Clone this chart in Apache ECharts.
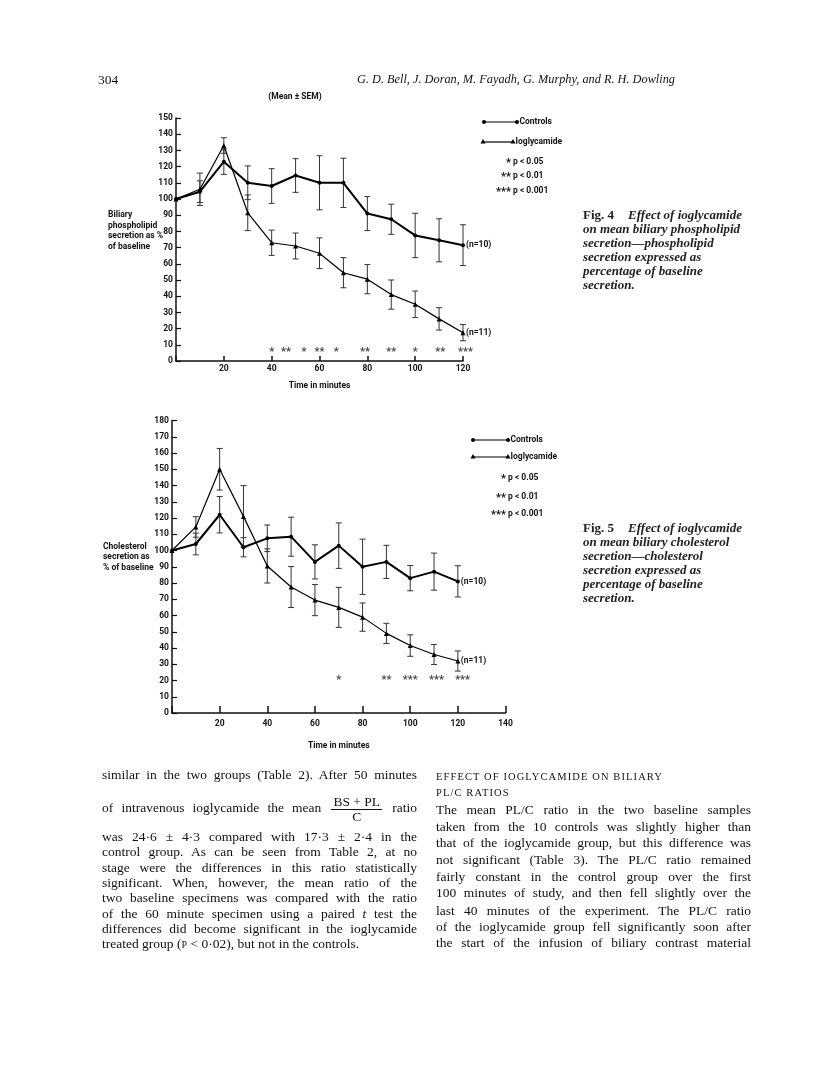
<!DOCTYPE html>
<html>
<head>
<meta charset="utf-8">
<script src="https://cdn.jsdelivr.net/npm/echarts@6/dist/echarts.min.js"></script>
<style>
  html, body { margin: 0; padding: 0; background: #fff; }
  #page { position: relative; width: 816px; height: 1079px; overflow: hidden; }
  #chart { position: absolute; left: 0; top: 0; width: 816px; height: 1079px; }
  .serif { position: absolute; font-family: 'Liberation Serif', 'DejaVu Serif', serif; color: #111; }
  .ln { width: 315px; font-size: 13.5px; line-height: 16px; text-align: justify; text-align-last: justify; }
  .last { text-align-last: left; }
  .cap { font-size: 13px; line-height: 14px; font-style: italic; font-weight: bold; color: #222; }
  .cap b { font-style: normal; margin-right: 14px; }
  .head { font-size: 10.5px; letter-spacing: 1.1px; line-height: 16px; }
  .frac { display: inline-block; vertical-align: middle; text-align: center; line-height: 13px; margin: 0 2px; }
  .frac span { display: block; text-align-last: center; }
  .frac .num { border-bottom: 1px solid #111; padding: 0 2px 1px; }
  .sc { font-size: 10px; }
</style>
</head>
<body>
<div id="page">
  <div id="chart"></div>

  <!-- running head -->
  <div class="serif" style="left:98px; top:72px; font-size:13.5px;">304</div>
  <div class="serif" style="left:357px; top:72px; font-size:12.3px; font-style:italic;">G. D. Bell, J. Doran, M. Fayadh, G. Murphy, and R. H. Dowling</div>

  <!-- captions -->
  <div class="serif cap" style="left:583px; top:208px;"><b>Fig. 4</b>Effect of ioglycamide<br>on mean biliary phospholipid<br>secretion—phospholipid<br>secretion expressed as<br>percentage of baseline<br>secretion.</div>
  <div class="serif cap" style="left:583px; top:521px;"><b>Fig. 5</b>Effect of ioglycamide<br>on mean biliary cholesterol<br>secretion—cholesterol<br>secretion expressed as<br>percentage of baseline<br>secretion.</div>

  <!-- left column -->
  <div class="serif ln" style="left:102px; top:767px;">similar in the two groups (Table 2). After 50 minutes</div>
  <div class="serif ln" style="left:102px; top:795px;">of intravenous ioglycamide the mean <span class="frac"><span class="num">BS + PL</span><span>C</span></span> ratio</div>
  <div class="serif ln" style="left:102px; top:829px;">was 24·6 ± 4·3 compared with 17·3 ± 2·4 in the</div>
  <div class="serif ln" style="left:102px; top:844px;">control group. As can be seen from Table 2, at no</div>
  <div class="serif ln" style="left:102px; top:860px;">stage were the differences in this ratio statistically</div>
  <div class="serif ln" style="left:102px; top:875px;">significant. When, however, the mean ratio of the</div>
  <div class="serif ln" style="left:102px; top:890px;">two baseline specimens was compared with the ratio</div>
  <div class="serif ln" style="left:102px; top:906px;">of the 60 minute specimen using a paired <i>t</i> test the</div>
  <div class="serif ln" style="left:102px; top:921px;">differences did become significant in the ioglycamide</div>
  <div class="serif ln last" style="left:102px; top:936px;">treated group (<span class="sc">P</span> &lt; 0·02), but not in the controls.</div>

  <!-- right column -->
  <div class="serif head" style="left:436px; top:769px;">EFFECT OF IOGLYCAMIDE ON BILIARY</div>
  <div class="serif head" style="left:436px; top:785px;">PL/C RATIOS</div>
  <div class="serif ln" style="left:436px; top:802px;">The mean PL/C ratio in the two baseline samples</div>
  <div class="serif ln" style="left:436px; top:819px;">taken from the 10 controls was slightly higher than</div>
  <div class="serif ln" style="left:436px; top:835px;">that of the ioglycamide group, but this difference was</div>
  <div class="serif ln" style="left:436px; top:852px;">not significant (Table 3). The PL/C ratio remained</div>
  <div class="serif ln" style="left:436px; top:869px;">fairly constant in the control group over the first</div>
  <div class="serif ln" style="left:436px; top:885px;">100 minutes of study, and then fell slightly over the</div>
  <div class="serif ln" style="left:436px; top:903px;">last 40 minutes of the experiment. The PL/C ratio</div>
  <div class="serif ln" style="left:436px; top:919px;">of the ioglycamide group fell significantly soon after</div>
  <div class="serif ln" style="left:436px; top:935px;">the start of the infusion of biliary contrast material</div>
</div>

<script>
// time points (minutes)
var times = [0, 10, 20, 30, 40, 50, 60, 70, 80, 90, 100, 110, 120];

// Fig. 4 - phospholipid secretion, % of baseline (mean, SEM)
var plControls    = [100, 104.5, 123, 110, 108, 114.5, 110, 110, 91, 87.5, 77.5, 74.5, 71.5];
var plControlsSem = [0, 6.7, 7.8, 10.4, 10.7, 10.4, 16.7, 15.2, 10.5, 9.3, 13.7, 13.3, 12.6];
var plIogly       = [100, 106, 133, 91.5, 73, 71, 66.5, 54.5, 50.5, 41, 35, 26, 17.5];
var plIoglySem    = [0, 10, 4.8, 11, 7.8, 8, 9.5, 9.3, 9, 9, 8.2, 6.9, 5];
var plStarTimes   = [40, 46, 53.5, 60, 67, 79, 90, 100, 110.5, 121];
var plStars       = ['*', '**', '*', '**', '*', '**', '**', '*', '**', '***'];
var plStarLevel   = 5.5;

// Fig. 5 - cholesterol secretion, % of baseline (mean, SEM)
var chControls    = [100, 104, 122, 102, 107.5, 108.5, 93, 103, 90, 93, 83, 87, 81];
var chControlsSem = [0, 6.7, 11.2, 5.9, 8.2, 12, 10.5, 14, 17, 10.2, 7.8, 11.4, 9.6];
var chIogly       = [100, 114.5, 150, 121, 90.5, 77.5, 69.5, 65, 59, 49, 41.5, 36, 32];
var chIoglySem    = [0, 6.3, 12.8, 18.9, 10.5, 12.6, 9.6, 12.3, 8.7, 6.2, 6.6, 6.2, 6.2];
var chStarTimes   = [70, 90, 100, 111, 122];
var chStars       = ['*', '**', '***', '***', '***'];
var chStarLevel   = 20;

var FONT = "'Liberation Sans Narrow', 'Roboto', 'Liberation Sans', sans-serif";
var FS = 8.5;
var INK = '#111';

function xAxisOf(gi, max, tickLen, margin, gap) {
  return {
    gridIndex: gi, type: 'value', min: 0, max: max, interval: 20,
    name: 'Time in minutes', nameLocation: 'middle', nameGap: gap,
    nameTextStyle: { fontFamily: FONT, fontWeight: 'bold', fontSize: FS, color: INK },
    axisLine: { lineStyle: { color: INK, width: 1.5 } },
    axisTick: { inside: true, length: tickLen, lineStyle: { color: INK, width: 1.5 } },
    axisLabel: {
      margin: margin, fontFamily: FONT, fontWeight: 'bold', fontSize: FS, color: INK,
      formatter: function (v) { return v === 0 ? '' : v; }
    },
    splitLine: { show: false }
  };
}

function yAxisOf(gi, max) {
  return {
    gridIndex: gi, type: 'value', min: 0, max: max, interval: 10,
    axisLine: { show: true, lineStyle: { color: INK, width: 1.5 } },
    axisTick: { show: true, inside: true, length: 5, lineStyle: { color: INK, width: 1.2 } },
    axisLabel: { margin: 3, fontFamily: FONT, fontWeight: 'bold', fontSize: FS, color: INK },
    splitLine: { show: false }
  };
}

function lineOf(gi, name, vals, width, symbol, size, endText) {
  return {
    type: 'line', name: name, xAxisIndex: gi, yAxisIndex: gi, z: 4,
    data: times.map(function (t, i) { return [t, vals[i]]; }),
    symbol: symbol, symbolSize: size,
    itemStyle: { color: '#000' },
    lineStyle: { color: '#000', width: width },
    endLabel: {
      show: true, formatter: endText, distance: 3,
      fontFamily: FONT, fontWeight: 'bold', fontSize: FS, color: INK
    }
  };
}

function errorsOf(gi, vals, sem) {
  var d = [];
  times.forEach(function (t, i) {
    if (sem[i] > 0) d.push([t, vals[i] - sem[i], vals[i] + sem[i]]);
  });
  return {
    type: 'custom', xAxisIndex: gi, yAxisIndex: gi, z: 2, silent: true,
    data: d, encode: { x: 0, y: [1, 2] },
    renderItem: function (params, api) {
      var lo = api.coord([api.value(0), api.value(1)]);
      var hi = api.coord([api.value(0), api.value(2)]);
      var st = { stroke: '#333', lineWidth: 1 };
      return {
        type: 'group', children: [
          { type: 'line', shape: { x1: lo[0], y1: lo[1], x2: hi[0], y2: hi[1] }, style: st },
          { type: 'line', shape: { x1: lo[0] - 3, y1: lo[1], x2: lo[0] + 3, y2: lo[1] }, style: st },
          { type: 'line', shape: { x1: hi[0] - 3, y1: hi[1], x2: hi[0] + 3, y2: hi[1] }, style: st }
        ]
      };
    }
  };
}

function starsOf(gi, ts, marks, level) {
  return {
    type: 'scatter', xAxisIndex: gi, yAxisIndex: gi, z: 5, silent: true, clip: false,
    symbolSize: 1, itemStyle: { color: 'rgba(0,0,0,0)' },
    data: ts.map(function (t, i) { return { value: [t, level], name: marks[i] }; }),
    label: {
      show: true, position: 'inside', formatter: function (p) { return p.name; },
      fontFamily: FONT, fontWeight: 'bold', fontSize: 11, color: INK
    }
  };
}

// legend and side labels (decoration, not data)
function txt(x, y, s, align, size) {
  return {
    type: 'text', x: x, y: y,
    style: {
      text: s, fontFamily: FONT, fontWeight: 'bold', fontSize: size || FS, fill: INK,
      align: align || 'left', verticalAlign: 'middle', lineHeight: 10.5
    }
  };
}
function legendRow(x1, x2, y, tri, label) {
  var els = [{ type: 'line', shape: { x1: x1, y1: y, x2: x2, y2: y }, style: { stroke: '#000', lineWidth: 1.2 } }];
  [x1, x2].forEach(function (x) {
    if (tri) {
      els.push({ type: 'polygon', shape: { points: [[x, y - 3], [x - 2.5, y + 1.5], [x + 2.5, y + 1.5]] }, style: { fill: '#000' } });
    } else {
      els.push({ type: 'circle', shape: { cx: x, cy: y, r: 2 }, style: { fill: '#000' } });
    }
  });
  els.push(txt(x2 + 2.5, y, label));
  return els;
}
function pRows(px, ys) {
  var stars = ['*', '**', '***'];
  var ps = ['p < 0.05', 'p < 0.01', 'p < 0.001'];
  var els = [];
  ys.forEach(function (y, i) {
    els.push(txt(px - 2, y + 1, stars[i], 'right', 11));
    els.push(txt(px, y, ps[i]));
  });
  return els;
}

var graphics = []
  .concat([txt(295, 97, '(Mean \u00b1 SEM)', 'center')])
  .concat([txt(108, 231, 'Biliary\nphospholipid\nsecretion as %\nof baseline')])
  .concat(legendRow(484, 517, 122, false, 'Controls'))
  .concat(legendRow(483, 513, 142, true, 'Ioglycamide'))
  .concat(pRows(513, [162, 176, 191]))
  .concat([txt(103, 557, 'Cholesterol\nsecretion as\n% of baseline')])
  .concat(legendRow(473, 508, 440, false, 'Controls'))
  .concat(legendRow(473, 508, 457, true, 'Ioglycamide'))
  .concat(pRows(508, [478, 497, 514]));

var chart = echarts.init(document.getElementById('chart'));
chart.setOption({
  animation: false,
  grid: [
    { left: 176, top: 118, width: 287, height: 243 },
    { left: 172, top: 420.5, width: 333.5, height: 292.5 }
  ],
  xAxis: [xAxisOf(0, 120, 5, 3, 20), xAxisOf(1, 140, 7, 6, 28)],
  yAxis: [yAxisOf(0, 150), yAxisOf(1, 180)],
  graphic: graphics,
  series: [
    errorsOf(0, plControls, plControlsSem),
    errorsOf(0, plIogly, plIoglySem),
    lineOf(0, 'Controls', plControls, 2, 'circle', 4, '(n=10)'),
    lineOf(0, 'Ioglycamide', plIogly, 1.2, 'triangle', 5, '(n=11)'),
    starsOf(0, plStarTimes, plStars, plStarLevel),
    errorsOf(1, chControls, chControlsSem),
    errorsOf(1, chIogly, chIoglySem),
    lineOf(1, 'Controls', chControls, 2, 'circle', 4, '(n=10)'),
    lineOf(1, 'Ioglycamide', chIogly, 1.2, 'triangle', 5, '(n=11)'),
    starsOf(1, chStarTimes, chStars, chStarLevel)
  ]
});
</script>
</body>
</html>
